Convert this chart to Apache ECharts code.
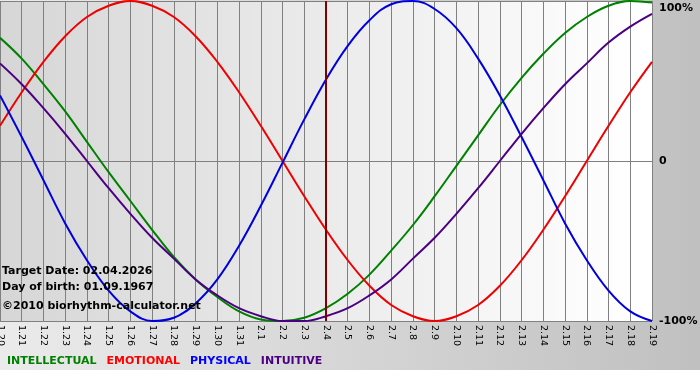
<!DOCTYPE html>
<html>
<head>
<meta charset="utf-8">
<script src="https://cdn.jsdelivr.net/npm/echarts@6/dist/echarts.min.js"></script>
<style>
  html, body { margin: 0; padding: 0; background: #fff; }
  #chart { width: 700px; height: 380px; }
</style>
</head>
<body>
<div id="chart"></div>
<script>
// days shown on the x axis (month.day)
var days = ['1.20', '1.21', '1.22', '1.23', '1.24', '1.25', '1.26', '1.27', '1.28', '1.29', '1.30', '1.31',
    '2.1', '2.2', '2.3', '2.4', '2.5', '2.6', '2.7', '2.8', '2.9', '2.10', '2.11', '2.12', '2.13',
    '2.14', '2.15', '2.16', '2.17', '2.18', '2.19'];

// values in percent
var intellectual = [77, 64, 48, 31, 12, -7, -25, -43, -60, -74, -85, -94, -99, -100, -98, -92, -83, -71,
    -56, -40, -22, -3, 16, 35, 52, 67, 80, 90, 97, 100, 99];
var emotional = [22, 43, 62, 78, 90, 97, 100, 97, 90, 78, 62, 43, 22, 0, -22, -43, -62, -78, -90, -97,
    -100, -97, -90, -78, -62, -43, -22, 0, 22, 43, 62];
var physical = [41, 15, -12, -39, -62, -81, -94, -100, -98, -89, -74, -53, -28, -1, 26, 51, 72, 88, 98,
    100, 95, 83, 64, 41, 15, -12, -39, -62, -81, -94, -100];
var intuitive = [61, 48, 33, 17, 0, -17, -33, -48, -61, -74, -84, -92, -97, -100, -100, -97, -92, -84,
    -74, -61, -48, -33, -17, 0, 17, 33, 48, 61, 74, 84, 92];

var yTicks = [-100, 0, 100];
var targetDay = '2.4';
var infoLines = ['Target Date: 02.04.2026', 'Day of birth: 01.09.1967', '\u00a92010 biorhythm-calculator.net'];

var font = '"DejaVu Sans", Verdana, sans-serif';

var dom = document.getElementById('chart');
var myChart = echarts.init(dom, null, { renderer: 'canvas' });

var option = {
    animation: false,
    backgroundColor: new echarts.graphic.LinearGradient(0, 0, 1, 0, [
        { offset: 0, color: '#ebebeb' },
        { offset: 1, color: '#c0c0c0' }
    ]),
    grid: {
        left: 0,
        right: 48,
        top: 1,
        bottom: 59,
        outerBoundsMode: 'none',
        containLabel: false,
        show: true,
        borderWidth: 0,
        backgroundColor: new echarts.graphic.LinearGradient(0, 0, 1, 0, [
            { offset: 0, color: '#d6d6d6' },
            { offset: 0.9, color: '#fcfcfc' },
            { offset: 1, color: '#ffffff' }
        ])
    },
    legend: {
        left: -3,
        top: 351,
        icon: 'none',
        itemWidth: 0,
        itemHeight: 10,
        itemGap: 5,
        selectedMode: false,
        textStyle: { fontFamily: font, fontWeight: 'bold', fontSize: 11 },
        data: [
            { name: 'INTELLECTUAL', textStyle: { color: '#008000' } },
            { name: 'EMOTIONAL', textStyle: { color: '#ff0000' } },
            { name: 'PHYSICAL', textStyle: { color: '#0000ff' } },
            { name: 'INTUITIVE', textStyle: { color: '#4b0082' } }
        ]
    },
    xAxis: {
        type: 'category',
        data: days,
        boundaryGap: false,
        axisLine: { show: true, lineStyle: { color: '#808080', width: 1 } },
        axisTick: { show: true, length: 4, interval: 0, lineStyle: { color: '#808080' } },
        axisLabel: {
            interval: 0,
            rotate: -90,
            margin: 4,
            color: '#000',
            fontFamily: font,
            fontSize: 9.5,
            showMinLabel: true,
            showMaxLabel: true
        },
        splitLine: { show: true, interval: 0, lineStyle: { color: '#808080', width: 1 } }
    },
    yAxis: {
        type: 'value',
        position: 'right',
        min: yTicks[0],
        max: yTicks[yTicks.length - 1],
        interval: 100,
        axisLine: { show: false },
        axisTick: { show: false },
        axisLabel: {
            margin: 7,
            color: '#000',
            fontFamily: font,
            fontWeight: 'bold',
            fontSize: 11,
            formatter: function (v) {
                if (v === 0) return '0';
                if (v === 100) return '{top|100%}';
                return v + '%';
            },
            rich: {
                top: { fontFamily: font, fontWeight: 'bold', fontSize: 11, padding: [14, 0, 0, 0] }
            }
        },
        splitLine: { show: true, lineStyle: { color: '#808080', width: 1 } }
    },
    graphic: [
        {
            type: 'rect',
            left: 0,
            top: 370,
            shape: { width: 700, height: 10 },
            style: { fill: '#ffffff' },
            silent: true
        },
        {
            type: 'text',
            left: 2,
            top: 266,
            z: 10,
            style: { text: infoLines[0], fill: '#000', font: 'bold 11px ' + font }
        },
        {
            type: 'text',
            left: 2,
            top: 282,
            z: 10,
            style: { text: infoLines[1], fill: '#000', font: 'bold 11px ' + font }
        },
        {
            type: 'text',
            left: 2,
            top: 301,
            z: 10,
            style: { text: infoLines[2], fill: '#000', font: 'bold 11px ' + font }
        }
    ],
    series: [
        {
            name: 'INTELLECTUAL',
            type: 'line',
            smooth: 0.4,
            symbol: 'none',
            lineStyle: { color: '#008000', width: 2 },
            itemStyle: { color: '#008000' },
            data: intellectual,
            markLine: {
                silent: true,
                symbol: 'none',
                label: { show: false },
                lineStyle: { color: '#800000', width: 2, type: 'solid' },
                data: [{ xAxis: targetDay }]
            }
        },
        {
            name: 'EMOTIONAL',
            type: 'line',
            smooth: 0.4,
            symbol: 'none',
            lineStyle: { color: '#ee0000', width: 2 },
            itemStyle: { color: '#ee0000' },
            data: emotional
        },
        {
            name: 'PHYSICAL',
            type: 'line',
            smooth: 0.4,
            symbol: 'none',
            lineStyle: { color: '#0000dd', width: 2 },
            itemStyle: { color: '#0000dd' },
            data: physical
        },
        {
            name: 'INTUITIVE',
            type: 'line',
            smooth: 0.4,
            symbol: 'none',
            lineStyle: { color: '#4b0082', width: 2 },
            itemStyle: { color: '#4b0082' },
            data: intuitive
        }
    ]
};

if (option && typeof option === 'object') {
    myChart.setOption(option);
}
</script>
</body>
</html>
